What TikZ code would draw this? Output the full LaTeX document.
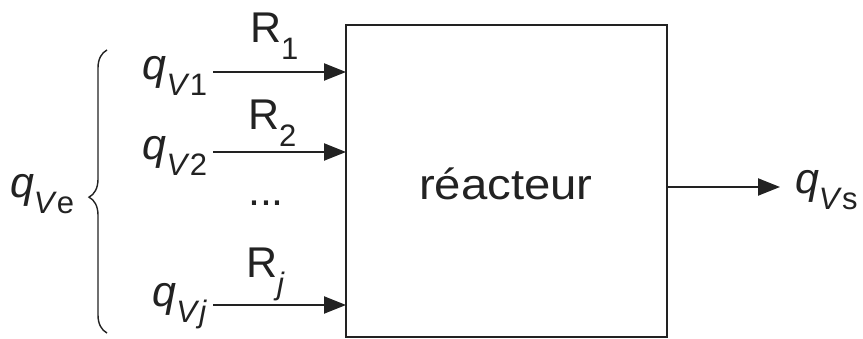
\documentclass[tikz,border=0pt]{standalone}
\usepackage{fontspec}
\setmainfont{Liberation Sans}
\usetikzlibrary{arrows.meta,decorations.pathreplacing}
\definecolor{ink}{HTML}{222222}
\newcommand{\qsub}[1]{\textit{q}\raisebox{-16pt}{\fontsize{31}{31}\selectfont\textit{V}#1}}
\newcommand{\rsub}[1]{R\raisebox{-17pt}{\fontsize{31}{31}\selectfont #1}}
\begin{document}
\begin{tikzpicture}[x=1pt,y=-1pt,
  every node/.style={inner sep=0pt,outer sep=0pt,text=ink,font=\fontsize{43}{50}\selectfont},
  flow/.style={draw=ink,line width=2.2pt,-{Triangle[length=22pt,width=17pt]}},
  lbl/.style={anchor=base west},
  lblr/.style={anchor=base east}]
\useasboundingbox[fill=white] (0,0) rectangle (863,339);
% reactor box
\node[draw=ink,line width=1.6pt,minimum width=321pt,minimum height=312pt,anchor=north west] (reac) at (346,25) {};
\node[anchor=base] (txt) at (506,200) {\scalebox{1.1}[1]{réacteur}};
% input start points
\coordinate (s1) at (213,72);
\coordinate (s2) at (213,152);
\coordinate (sj) at (213,305);
\draw[flow] (s1) -- (s1 -| reac.west);
\draw[flow] (s2) -- (s2 -| reac.west);
\draw[flow] (sj) -- (sj -| reac.west);
% output
\coordinate (out) at (780,187);
\draw[flow] (reac.east |- out) -- (out);
% labels
\node[lbl] (r1) at (250,43) {\rsub{1}};
\node[lbl] (r2) at (248,130) {\rsub{2}};
\node[lbl] (rj) at (246,278) {\rsub{\textit{j}}};
\node[anchor=base] (dots) at (266,206) {...};
\node[lblr] (q1) at (207,80) {\qsub{1}};
\node[lblr] (q2) at (207,160) {\qsub{2}};
\node[lblr] (qj) at (207,307) {\qsub{\textit{j}}};
\node[lbl] (qe) at (10,198) {\qsub{e}};
\node[lbl] (qs) at (795,194) {\qsub{s}};
% brace
\draw[ink,line width=1.4pt,decorate,decoration={brace,amplitude=18pt,aspect=0.48}] (107,333) -- (107,50);
\end{tikzpicture}
\end{document}
